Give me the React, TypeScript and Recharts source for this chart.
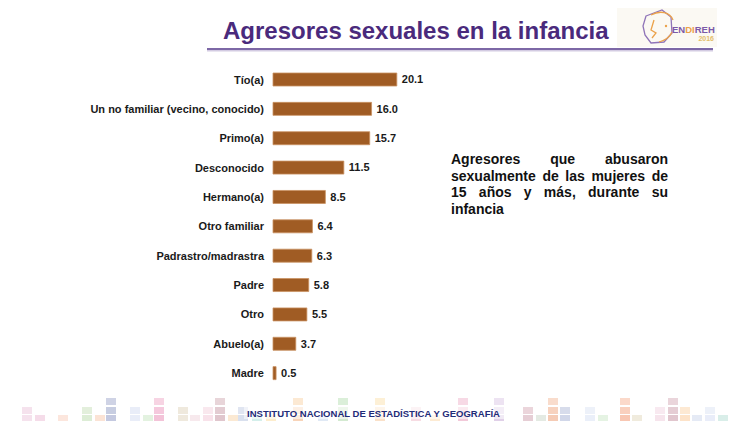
import React from 'react';
import { BarChart, Bar, XAxis, YAxis, LabelList } from 'recharts';

const aggressors = [
  'Tío(a)',
  'Un no familiar (vecino, conocido)',
  'Primo(a)',
  'Desconocido',
  'Hermano(a)',
  'Otro familiar',
  'Padrastro/madrastra',
  'Padre',
  'Otro',
  'Abuelo(a)',
  'Madre',
];
const percentages = [20.1, 16.0, 15.7, 11.5, 8.5, 6.4, 6.3, 5.8, 5.5, 3.7, 0.5];

const titleText = 'Agresores sexuales en la infancia';
const noteLines = ['Agresores que abusaron', 'sexualmente de las mujeres de', '15 años y más, durante su', 'infancia'];
const footerText = 'INSTITUTO NACIONAL  DE ESTADÍSTICA Y GEOGRAFÍA';

const chartData = aggressors.map((name, i) => ({ name, value: percentages[i] }));

const FONT = '"Liberation Sans", Arial, sans-serif';

// decorative pixel squares along the footer: x, then colours for the three rows
const footerSquares: [number, (string | null)[]][] = [
  [22, [null, '#f2dbe8', '#f2dbe8']],
  [35, [null, null, '#f2d3e3']],
  [58, [null, null, '#fbe0d4']],
  [82, [null, '#dcebd3', '#d5e8cc']],
  [95, [null, null, '#fadccb']],
  [106, ['#c3c8de', '#b9c0da', '#b5bcd8']],
  [130, [null, '#e4e9f6', '#e4e9f6']],
  [143, [null, null, '#dcefd8']],
  [154, ['#f5c9dc', '#f3bcd4', '#f0b4ce']],
  [178, [null, '#ebe3d5', '#ebe3d5']],
  [190, [null, null, '#f5e4e8']],
  [203, [null, '#f8e2ea', '#f6dbe5']],
  [215, ['#e2cbd0', '#dcbfc7', '#d8b8c0']],
  [228, [null, null, '#fae3c8']],
  [238, [null, '#d8dfee', '#cfd8ea']],
  [252, [null, null, '#c9ebe6']],
  [266, [null, null, '#fde9c0']],
  [293, ['#fbe3c8', '#f9d6b8', '#f6c9a8']],
  [318, [null, null, '#d8e4f2']],
  [338, ['#d2ebd0', '#cfe8cc', '#c9e5c6']],
  [375, ['#fdeccc', '#fbe2c4', '#f9d9bc']],
  [411, [null, '#f7dde3', '#f5d3dc']],
  [430, [null, null, '#fde6c8']],
  [458, ['#f5d0de', '#f2c4d5', '#efbccf']],
  [494, ['#e8dcef', '#e0d0e8', '#d8c4e2']],
  [523, [null, '#e6cbd2', '#e0c2cb']],
  [536, [null, null, '#dde5dc']],
  [548, ['#f7d3bf', '#f5c7ae', '#f3bea2']],
  [560, [null, '#cdd3e6', '#c6cde3']],
  [585, [null, '#e9eef8', '#e5ebf7']],
  [598, [null, null, '#dff0dc']],
  [620, ['#fad0bd', '#f8c4ae', '#f6b9a0']],
  [632, [null, null, '#ece6d5']],
  [655, [null, '#f6e4ec', '#f4dde7']],
  [668, ['#e5cbd2', '#dfc0c9', '#dab8c2']],
  [680, [null, '#fde4c8', '#fcdcbc']],
  [692, [null, null, '#dfe5f3']],
  [705, [null, '#e8edf8', '#e3e9f7']],
  [718, [null, null, '#cfeae3']],
];
const rowY = [398, 407, 415];

const Decorations: React.FC = () => (
  <svg width={737} height={421} style={{ position: 'absolute', left: 0, top: 0 }}>
    {footerSquares.map(([x, cols]) =>
      cols.map((c, r) =>
        c ? <rect key={`${x}-${r}`} x={x} y={rowY[r]} width={10} height={7} fill={c} opacity={0.8} /> : null
      )
    )}
    <rect x={244} y={407} width={260} height={12} fill="#ffffff" opacity={0.55} />
    <text x={247} y={417} fontFamily={FONT} fontWeight="bold" fontSize={8.5} fill="#1f2c78"
      textLength={253} lengthAdjust="spacingAndGlyphs">
      {footerText}
    </text>

    <text x={223} y={39} fontFamily={FONT} fontWeight="bold" fontSize={24} fill="#4a2a7c">
      {titleText}
    </text>
    <rect x={207} y={48} width={506} height={2} fill="#7d68a6" />
    <rect x={207} y={50} width={506} height={1.5} fill="#d3cbe2" />

    {/* ENDIREH logo */}
    <rect x={617} y={8} width={100} height={39} fill="#fbf9f3" />
    <path d="M646 16 L662 10 L671 17 L672 33 L664 42 L651 43 L645 35 L643 26 Z" fill="none" stroke="#8f74b8" strokeWidth={1.3} />
    <path d="M651 15 C660 10 670 12 673 20 M654 20 L651 30 L656 33 L652 38 M659 42 C666 40 670 37 672 32" fill="none" stroke="#eba24a" strokeWidth={1.3} />
    <circle cx={666} cy={26} r={1.2} fill="#eba24a" />
    <text x={672} y={33} fontFamily={FONT} fontWeight="bold" fontSize={9.5} fill="#7b5aa8">
      EN<tspan fill="#eba24a">DI</tspan>REH
    </text>
    <text x={714} y={41} textAnchor="end" fontFamily={FONT} fontWeight="bold" fontSize={7} fill="#e3bd6a">
      2016
    </text>
  </svg>
);

const App: React.FC = () => {
  return (
    <div style={{ position: 'absolute', left: 0, top: 0, width: 737, height: 421, background: '#ffffff', overflow: 'hidden' }}>
      <Decorations />
      <div style={{ position: 'absolute', left: 0, top: 0 }}>
        <BarChart
          layout="vertical"
          width={460}
          height={400}
          data={chartData}
          barCategoryGap={0}
          margin={{ top: 65, right: 33, bottom: 12, left: 0 }}
        >
          <XAxis type="number" domain={[0, 25]} hide />
          <YAxis
            type="category"
            dataKey="name"
            width={273}
            interval={0}
            axisLine={false}
            tickLine={false}
            tickSize={0}
            tickMargin={9}
            tick={{ fill: '#1a1a1a', fontSize: 11, fontWeight: 'bold', fontFamily: FONT }}
          />
          <Bar dataKey="value" fill="#a05c24" stroke="#c99262" strokeWidth={0.8} barSize={13} isAnimationActive={false}>
            <LabelList
              dataKey="value"
              position="right"
              offset={5}
              formatter={(v: any) => Number(v).toFixed(1)}
              style={{ fill: '#1a1a1a', fontSize: 11, fontWeight: 'bold', fontFamily: FONT }}
            />
          </Bar>
        </BarChart>
      </div>
      <div
        style={{
          position: 'absolute',
          left: 451,
          top: 151,
          width: 217,
          fontFamily: FONT,
          fontWeight: 'bold',
          fontSize: 14,
          lineHeight: '16.7px',
          color: '#111111',
        }}
      >
        {noteLines.map((line, i) => (
          <div
            key={i}
            style={{
              textAlign: i < noteLines.length - 1 ? 'justify' : 'left',
              textAlignLast: i < noteLines.length - 1 ? 'justify' : 'left',
            }}
          >
            {line}
          </div>
        ))}
      </div>
    </div>
  );
};

export default App;
